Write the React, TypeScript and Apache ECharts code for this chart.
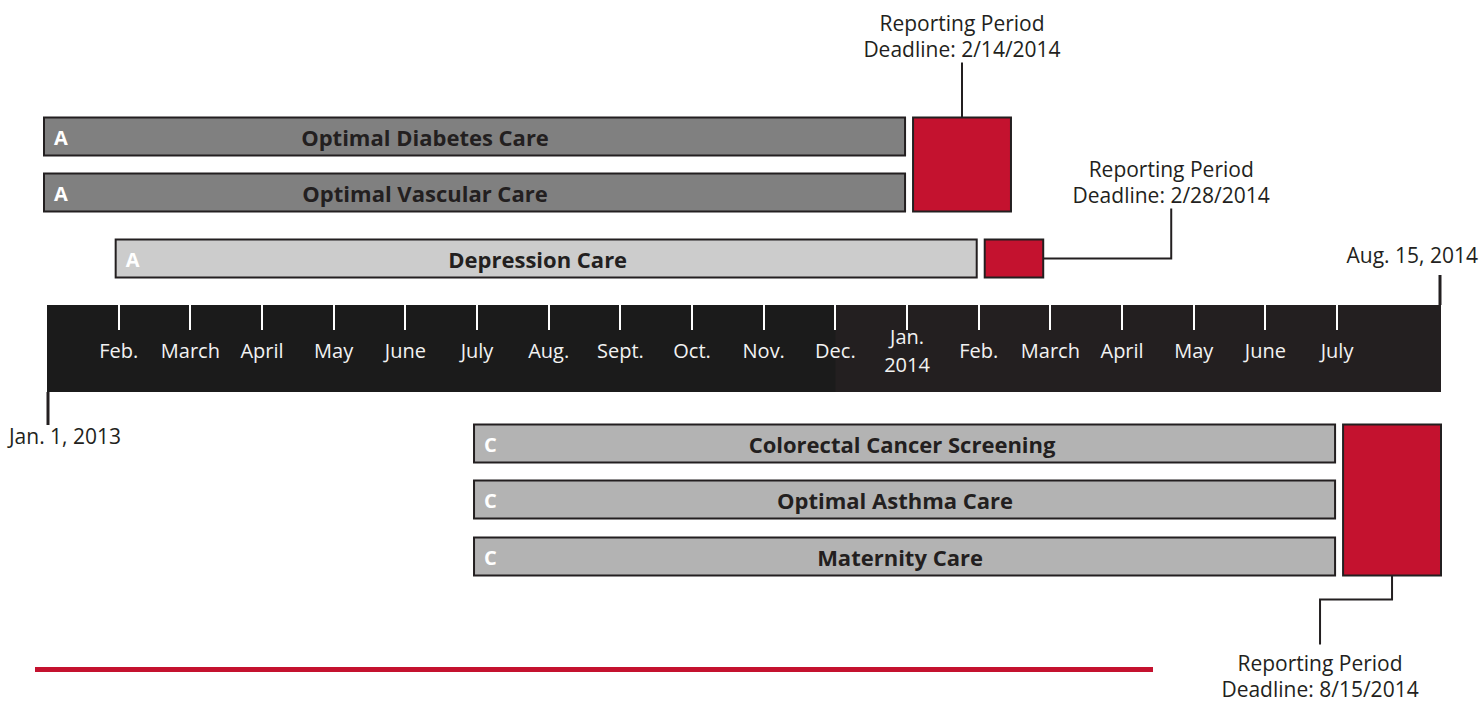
import React, { useEffect, useRef } from "react";
import * as echarts from "echarts";

// ---- DATA (time in months counted from Jan. 1, 2013 = 0; Jan. 1, 2014 = 12) ----
const measureNames = [
  "Optimal Diabetes Care",
  "Optimal Vascular Care",
  "Depression Care",
  "Colorectal Cancer Screening",
  "Optimal Asthma Care",
  "Maternity Care",
];
const measureCodes = ["A", "A", "A", "C", "C", "C"];
const measureStart = [0, 0, 1, 6, 6, 6];
const measureEnd = [12, 12, 13, 18, 18, 18];

const reportStart = [12, 13, 18];
const reportEnd = [13.45, 13.9, 19.45];
const reportFirstRow = [0, 2, 3];
const reportLastRow = [1, 2, 5];
const reportDeadlines = ["2/14/2014", "2/28/2014", "8/15/2014"];

const monthTicks = [1, 2, 3, 4, 5, 6, 7, 8, 9, 10, 11, 12, 13, 14, 15, 16, 17, 18];
const monthLabels = [
  "Feb.", "March", "April", "May", "June", "July", "Aug.", "Sept.", "Oct.", "Nov.", "Dec.",
  "Jan.\n2014", "Feb.", "March", "April", "May", "June", "July",
];

const timelineStart = 0;
const timelineEnd = 19.45;
const timelineStartLabel = "Jan. 1, 2013";
const timelineEndLabel = "Aug. 15, 2014";
const bandShadeSplit = 11;

// ---- LAYOUT / STYLE ----
const FONT = '"Open Sans", "Noto Sans", sans-serif';
const INK = "#231f20";
const RED = "#c4122f";
const rowCenters = [136.5, 192.5, 258.5, 443.5, 499.5, 556.5];
const rowFills = ["#808080", "#808080", "#cccccc", "#b3b3b3", "#b3b3b3", "#b3b3b3"];
const rowLabelShift = [-52, -52, -11, -5, -12, -7];
const BAR_H = 38;
const BAND_TOP = 305;
const BAND_BOTTOM = 392;

export default function App() {
  const ref = useRef<HTMLDivElement>(null);

  useEffect(() => {
    if (!ref.current) return;
    const chart = echarts.init(ref.current, null, { renderer: "svg" });

    const barSeries = {
      type: "custom",
      xAxisIndex: 0,
      yAxisIndex: 0,
      clip: false,
      z: 3,
      encode: { x: [0, 1], y: 2 },
      data: measureNames.map((_, i) => [measureStart[i], measureEnd[i], i]),
      renderItem: (params: any, api: any) => {
        const i = params.dataIndex;
        const x0 = api.coord([api.value(0), 0])[0];
        const x1 = api.coord([api.value(1), 0])[0];
        const yc = api.coord([0, rowCenters[i]])[1];
        return {
          type: "group",
          children: [
            {
              type: "rect",
              shape: { x: x0 - 3, y: yc - BAR_H / 2, width: x1 - x0 + 1, height: BAR_H },
              style: { fill: rowFills[i], stroke: INK, lineWidth: 2 },
            },
            {
              type: "text",
              style: {
                text: measureCodes[i],
                x: x0 + 7,
                y: yc + 1,
                fill: "#ffffff",
                fontFamily: FONT,
                fontWeight: "bold",
                fontSize: 20,
                align: "left",
                verticalAlign: "middle",
              },
            },
            {
              type: "text",
              style: {
                text: measureNames[i],
                x: (x0 + x1) / 2 + rowLabelShift[i],
                y: yc,
                fill: INK,
                fontFamily: FONT,
                fontWeight: "bold",
                fontSize: 22,
                align: "center",
                verticalAlign: "middle",
              },
            },
          ],
        };
      },
    };

    const reportSeries = {
      type: "custom",
      xAxisIndex: 0,
      yAxisIndex: 0,
      clip: false,
      z: 3,
      encode: { x: [0, 1], y: 2 },
      data: reportStart.map((s, i) => [s, reportEnd[i], i]),
      renderItem: (params: any, api: any) => {
        const i = params.dataIndex;
        const x0 = api.coord([api.value(0), 0])[0] + 6;
        const x1 = api.coord([api.value(1), 0])[0];
        const yTop = api.coord([0, rowCenters[reportFirstRow[i]]])[1] - BAR_H / 2;
        const yBot = api.coord([0, rowCenters[reportLastRow[i]]])[1] + BAR_H / 2;
        const cx = (x0 + x1) / 2;
        const children: any[] = [
          {
            type: "rect",
            shape: { x: x0, y: yTop, width: x1 - x0, height: yBot - yTop },
            style: { fill: RED, stroke: INK, lineWidth: 2 },
          },
        ];
        const txt = "Reporting Period\nDeadline: " + reportDeadlines[i];
        const textStyle = {
          text: txt,
          fill: INK,
          fontFamily: FONT,
          fontSize: 21,
          lineHeight: 26,
          align: "center",
        };
        let points: number[][] = [];
        let tx = cx;
        let ty = 0;
        let va = "bottom";
        if (i === 0) {
          points = [[cx, yTop], [cx, yTop - 55]];
          ty = yTop - 56;
        } else if (i === 1) {
          const ym = (yTop + yBot) / 2;
          tx = x1 + 128;
          points = [[x1, ym], [tx, ym], [tx, ym - 50]];
          ty = ym - 51;
        } else {
          tx = cx - 72;
          points = [[cx, yBot], [cx, yBot + 24], [tx, yBot + 24], [tx, yBot + 69]];
          ty = yBot + 74;
          va = "top";
        }
        children.push({
          type: "polyline",
          shape: { points },
          style: { stroke: INK, lineWidth: 2, fill: "none" },
        });
        children.push({
          type: "text",
          style: { ...textStyle, x: tx, y: ty, verticalAlign: va },
        });
        return { type: "group", children };
      },
    };

    const bandSeries = {
      type: "custom",
      xAxisIndex: 0,
      yAxisIndex: 0,
      clip: false,
      z: 1,
      encode: { x: [0, 1, 2] },
      data: [[timelineStart, bandShadeSplit, timelineEnd]],
      renderItem: (params: any, api: any) => {
        const xa = api.coord([api.value(0), 0])[0];
        const xs = api.coord([api.value(1), 0])[0];
        const xb = api.coord([api.value(2), 0])[0];
        const yT = api.coord([0, BAND_TOP])[1];
        const yB = api.coord([0, BAND_BOTTOM])[1];
        const ticks = monthTicks.map((m) => {
          const x = Math.round(api.coord([m, 0])[0]);
          return {
            type: "line",
            shape: { x1: x, y1: yT, x2: x, y2: yT + 25 },
            style: { stroke: "#ffffff", lineWidth: 2 },
          };
        });
        return {
          type: "group",
          children: [
            { type: "rect", shape: { x: xa, y: yT, width: xb - xa, height: yB - yT }, style: { fill: "#231f20" } },
            { type: "rect", shape: { x: xa, y: yT, width: xs - xa, height: yB - yT }, style: { fill: "#1b1b1b" } },
            ...ticks,
            {
              type: "line",
              shape: { x1: xa + 1, y1: yB, x2: xa + 1, y2: yB + 33 },
              style: { stroke: INK, lineWidth: 3 },
            },
            {
              type: "text",
              style: {
                text: timelineStartLabel,
                x: xa + 18,
                y: yB + 44,
                fill: INK,
                fontFamily: FONT,
                fontSize: 21,
                align: "center",
                verticalAlign: "middle",
              },
            },
            {
              type: "line",
              shape: { x1: xb - 1, y1: yT, x2: xb - 1, y2: yT - 30 },
              style: { stroke: INK, lineWidth: 3 },
            },
            {
              type: "text",
              style: {
                text: timelineEndLabel,
                x: xb + 37,
                y: yT - 50,
                fill: INK,
                fontFamily: FONT,
                fontSize: 21,
                align: "right",
                verticalAlign: "middle",
              },
            },
          ],
        };
      },
    };

    const option: any = {
      animation: false,
      grid: [
        { left: 47, right: 41, top: 0, bottom: 0 },
        { left: 47, right: 41, top: BAND_TOP, height: BAND_BOTTOM - BAND_TOP },
      ],
      xAxis: [
        { gridIndex: 0, type: "value", min: timelineStart, max: timelineEnd, show: false },
        {
          gridIndex: 1,
          type: "value",
          min: timelineStart,
          max: timelineEnd,
          position: "top",
          z: 10,
          axisLine: { show: false },
          splitLine: { show: false },
          axisTick: { show: false },
          axisLabel: {
            show: true,
            inside: true,
            customValues: monthTicks,
            margin: 45,
            verticalAlign: "middle",
            color: "#f2f2f2",
            fontFamily: FONT,
            fontSize: 20,
            lineHeight: 28,
            formatter: (v: number) => {
              const k = monthTicks.indexOf(Math.round(v));
              return k >= 0 ? monthLabels[k] : "";
            },
          },
        },
      ],
      yAxis: [
        { gridIndex: 0, type: "value", min: 0, max: 701, inverse: true, show: false },
        { gridIndex: 1, type: "value", min: 0, max: 1, show: false },
      ],
      graphic: [
        {
          type: "rect",
          shape: { x: 35, y: 667, width: 1118, height: 5 },
          style: { fill: RED },
        },
      ],
      series: [bandSeries, barSeries, reportSeries],
    };

    chart.setOption(option);
    return () => chart.dispose();
  }, []);

  return (
    <div
      ref={ref}
      style={{ position: "fixed", left: 0, top: 0, width: 1482, height: 701, background: "#ffffff" }}
    />
  );
}
